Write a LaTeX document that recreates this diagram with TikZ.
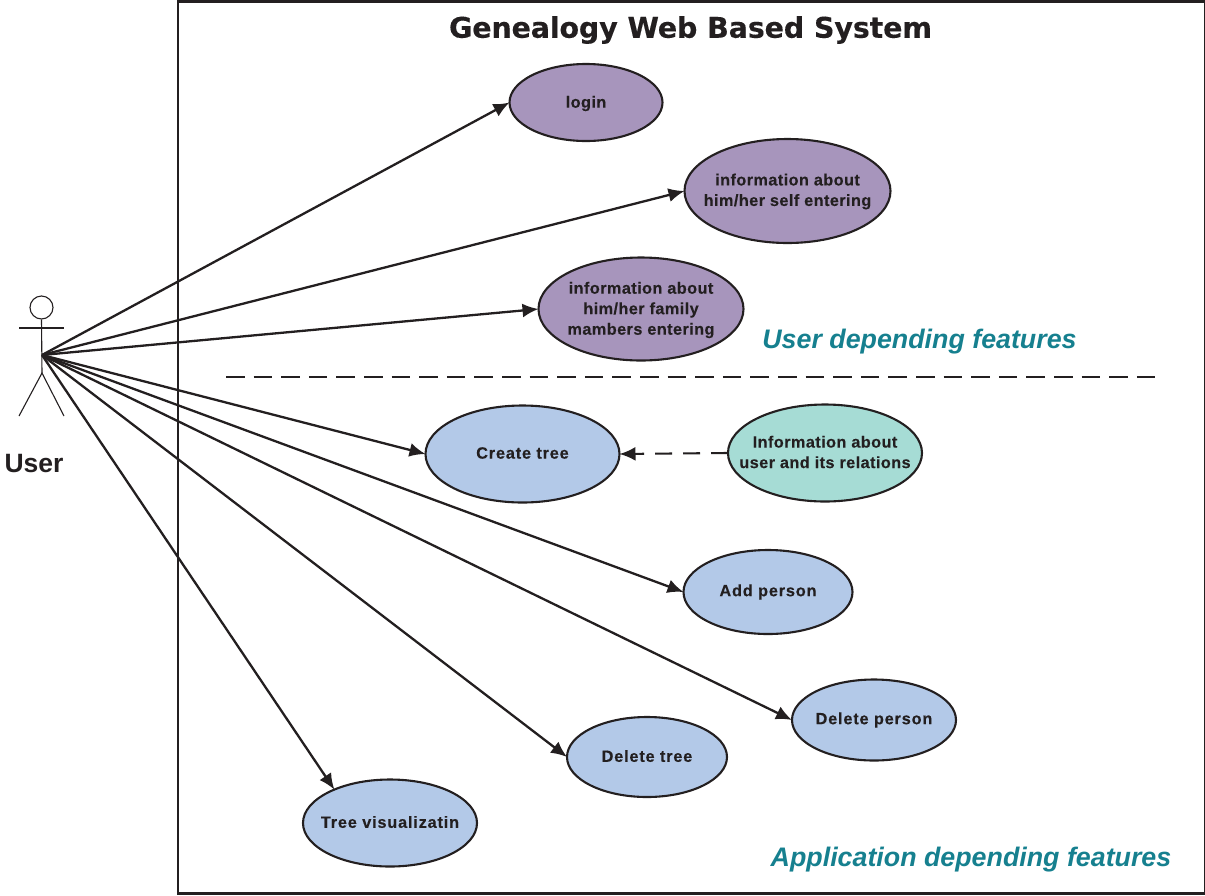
\documentclass[tikz,border=0pt]{standalone}
\usepackage{fontspec}
\setmainfont{Liberation Sans}
\newfontfamily\lsp[LetterSpace=2.5,FakeBold=0.15]{Liberation Sans}
\newfontfamily\lsw[LetterSpace=5,FakeBold=0.25]{Liberation Sans}
\newfontfamily\ttl[LetterSpace=-0.5,FakeBold=0.25]{DejaVu Sans}
\usetikzlibrary{shapes.geometric,arrows.meta}
\definecolor{ink}{HTML}{231F20}
\definecolor{purp}{HTML}{A795BC}
\definecolor{blu}{HTML}{B3C9E8}
\definecolor{teal1}{HTML}{A6DCD5}
\definecolor{teal2}{HTML}{16808F}
\tikzset{
 uc/.style={ellipse,draw=ink,line width=2.1pt,inner sep=0pt,outer sep=0pt},
 uctext/.style={align=center,text=ink,inner sep=0pt,font=\lsp\fontsize{16.3}{20.5}\selectfont\bfseries},
 uctextw/.style={uctext,font=\lsw\fontsize{16.3}{20.5}\selectfont\bfseries},
 purpuc/.style={uc,fill=purp},
 bluuc/.style={uc,fill=blu},
 tealuc/.style={uc,fill=teal1},
 assoc/.style={draw=ink,line width=2.3pt,-{Latex[length=16pt,width=14pt]}},
 dep/.style={draw=ink,line width=2.1pt,dash pattern=on 17pt off 11pt,-{Latex[length=16pt,width=14pt]}},
 thin1/.style={draw=ink,line width=1.1pt},
 feat/.style={text=teal2,font=\fontsize{26.8}{30}\selectfont\bfseries\itshape,inner sep=0pt},
}
\begin{document}
\begin{tikzpicture}[x=1pt,y=-1pt]
\useasboundingbox (0,0) rectangle (1205,895);
\node[draw=ink,line width=2.1pt,minimum width=1027pt,minimum height=892pt,inner sep=0pt] (sys) at (691.5,447.5) {};
\node[text=ink,inner sep=0pt,font=\ttl\fontsize{28.5}{36}\selectfont\bfseries] (title) at (690.5,30) {Genealogy Web Based System};
% actor
\node[circle,thin1,minimum size=23pt,inner sep=0pt] (head) at (41.5,307.5) {};
\coordinate (hip) at (42,373);
\coordinate (lfoot) at (19,416);
\coordinate (rfoot) at (64,416);
\coordinate (larm) at (19,328);
\coordinate (rarm) at (64,328);
\coordinate (hub) at (42,355);
\draw[thin1] (head.south) -- (hip);
\draw[thin1] (larm) -- (rarm);
\draw[thin1] (lfoot) -- (hip) -- (rfoot);
\node[text=ink,inner sep=0pt,font=\fontsize{26.5}{30}\selectfont\bfseries] (user) at (34,463.5) {User};
% use cases
\node[purpuc,minimum width=153pt,minimum height=77pt,label={[uctext,name=tlogin,yshift=-1pt]center:login}] (login) at (586,102.5) {};
\node[purpuc,minimum width=206pt,minimum height=104pt,label={[uctext,name=tself,yshift=-0.5pt]center:information about\\him/her self entering}] (self) at (787.5,191) {};
\node[purpuc,minimum width=205pt,minimum height=103pt,label={[uctext,name=tfamily,yshift=-1pt]center:information about\\him/her family\\mambers entering}] (family) at (641,309) {};
\node[bluuc,minimum width=194pt,minimum height=97pt,label={[uctextw,name=tcreate,yshift=1pt]center:Create tree}] (create) at (522.5,454) {};
\node[tealuc,minimum width=194pt,minimum height=97pt,label={[uctext,name=tinfo,yshift=1pt]center:Information about\\user and its relations}] (info) at (825,453) {};
\node[bluuc,minimum width=169pt,minimum height=84pt,label={[uctextw,name=tadd]center:Add person}] (add) at (768,592) {};
\node[bluuc,minimum width=164pt,minimum height=81pt,label={[uctextw,name=tdelp]center:Delete person}] (delp) at (874,720) {};
\node[bluuc,minimum width=160pt,minimum height=80pt,label={[uctextw,name=tdelt,yshift=1pt]center:Delete tree}] (delt) at (647,757) {};
\node[bluuc,minimum width=174pt,minimum height=87pt,label={[uctextw,name=tvis,yshift=1pt]center:Tree visualizatin}] (vis) at (390,823) {};
% connectors
\draw[assoc] (hub) -- (login.west);
\draw[assoc] (hub) -- (self.west);
\draw[assoc] (hub) -- (family.west);
\draw[assoc] (hub) -- (create.west);
\draw[assoc] (hub) -- (add.west);
\draw[assoc] (hub) -- (delp.west);
\draw[assoc] (hub) -- (delt.west);
\draw[assoc] (hub) -- (vis.149);
\draw[dep] (info.west) -- (create.east);
% separator
\coordinate (sepl) at (226,377);
\coordinate (sepr) at (1155,377);
\draw[draw=ink,line width=2.1pt,dash pattern=on 18.5pt off 9.1pt] (sepl) -- (sepr);
\node[feat] (ufeat) at (919.5,342) {User depending features};
\node[feat] (afeat) at (971,860) {Application depending features};
\end{tikzpicture}
\end{document}
